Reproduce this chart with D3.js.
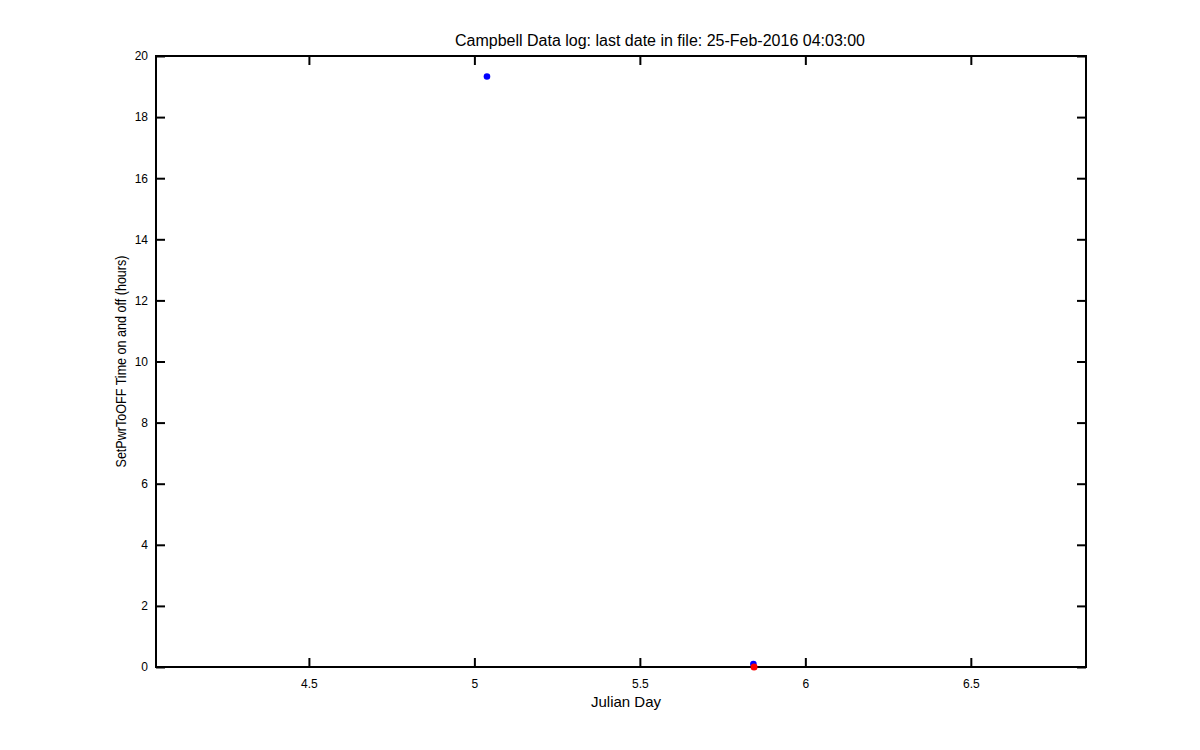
<!DOCTYPE html>
<html><head><meta charset="utf-8">
<script src="https://cdn.jsdelivr.net/npm/d3@7"></script>
<style>body{margin:0;background:#fff}text{font-family:"Liberation Sans",Arial,sans-serif}</style>
</head><body>
<svg id="c" width="1200" height="750"></svg>
<script>
const blueX = [5.038, 5.843];
const blueY = [19.33, 0.1];
const redX = [5.845];
const redY = [0];
const xTicks = [4.5, 5, 5.5, 6, 6.5];
const yTicks = [0, 2, 4, 6, 8, 10, 12, 14, 16, 18, 20];
const titleText = "Campbell Data log: last date in file: 25-Feb-2016 04:03:00";
const xLabel = "Julian Day";
const yLabel = "SetPwrToOFF Time on and off (hours)";

const L = 156, R = 1086, T = 56, B = 667;
const svg = d3.select("#c");
const x = d3.scaleLinear().domain([4.038, 6.848]).range([L, R]);
const y = d3.scaleLinear().domain([0, 20]).range([B, T]);

const fmt = d => String(d);
const ax = (g, axis) => g.call(axis).call(s => s.select(".domain").remove())
  .call(s => s.selectAll("line").attr("stroke", "#000").attr("stroke-width", 2))
  .call(s => s.selectAll("text").attr("fill", "#000").style("font-size", "12px"));

svg.append("g").attr("transform", `translate(0,${B})`)
  .call(g => ax(g, d3.axisBottom(x).tickValues(xTicks).tickFormat(fmt).tickSizeInner(-9).tickPadding(12)));
svg.append("g").attr("transform", `translate(0,${T})`)
  .call(g => ax(g, d3.axisTop(x).tickValues(xTicks).tickFormat("").tickSizeInner(-9)));
svg.append("g").attr("transform", `translate(${L},0)`)
  .call(g => ax(g, d3.axisLeft(y).tickValues(yTicks).tickFormat(fmt).tickSizeInner(-9).tickPadding(8)));
svg.append("g").attr("transform", `translate(${R},0)`)
  .call(g => ax(g, d3.axisRight(y).tickValues(yTicks).tickFormat("").tickSizeInner(-9)));

svg.append("rect").attr("x", L).attr("y", T).attr("width", R - L).attr("height", B - T)
  .attr("fill", "none").attr("stroke", "#000").attr("stroke-width", 2);

svg.append("g").selectAll("circle").data(blueX.map((d, i) => [d, blueY[i]])).join("circle")
  .attr("cx", d => x(d[0])).attr("cy", d => y(d[1])).attr("r", 3.3).attr("fill", "#0000ff");
svg.append("g").selectAll("circle").data(redX.map((d, i) => [d, redY[i]])).join("circle")
  .attr("cx", d => x(d[0])).attr("cy", d => y(d[1])).attr("r", 3.5).attr("fill", "#ff0000");

svg.append("text").attr("x", 660).attr("y", 46).attr("text-anchor", "middle")
  .style("font-size", "16px").text(titleText);
svg.append("text").attr("x", 626).attr("y", 707).attr("text-anchor", "middle")
  .style("font-size", "15px").text(xLabel);
svg.append("text").attr("transform", `translate(126,${(T + B) / 2}) rotate(-90)`).attr("text-anchor", "middle")
  .attr("textLength", 212).attr("lengthAdjust", "spacingAndGlyphs")
  .style("font-size", "14.5px").text(yLabel);
</script>
</body></html>
